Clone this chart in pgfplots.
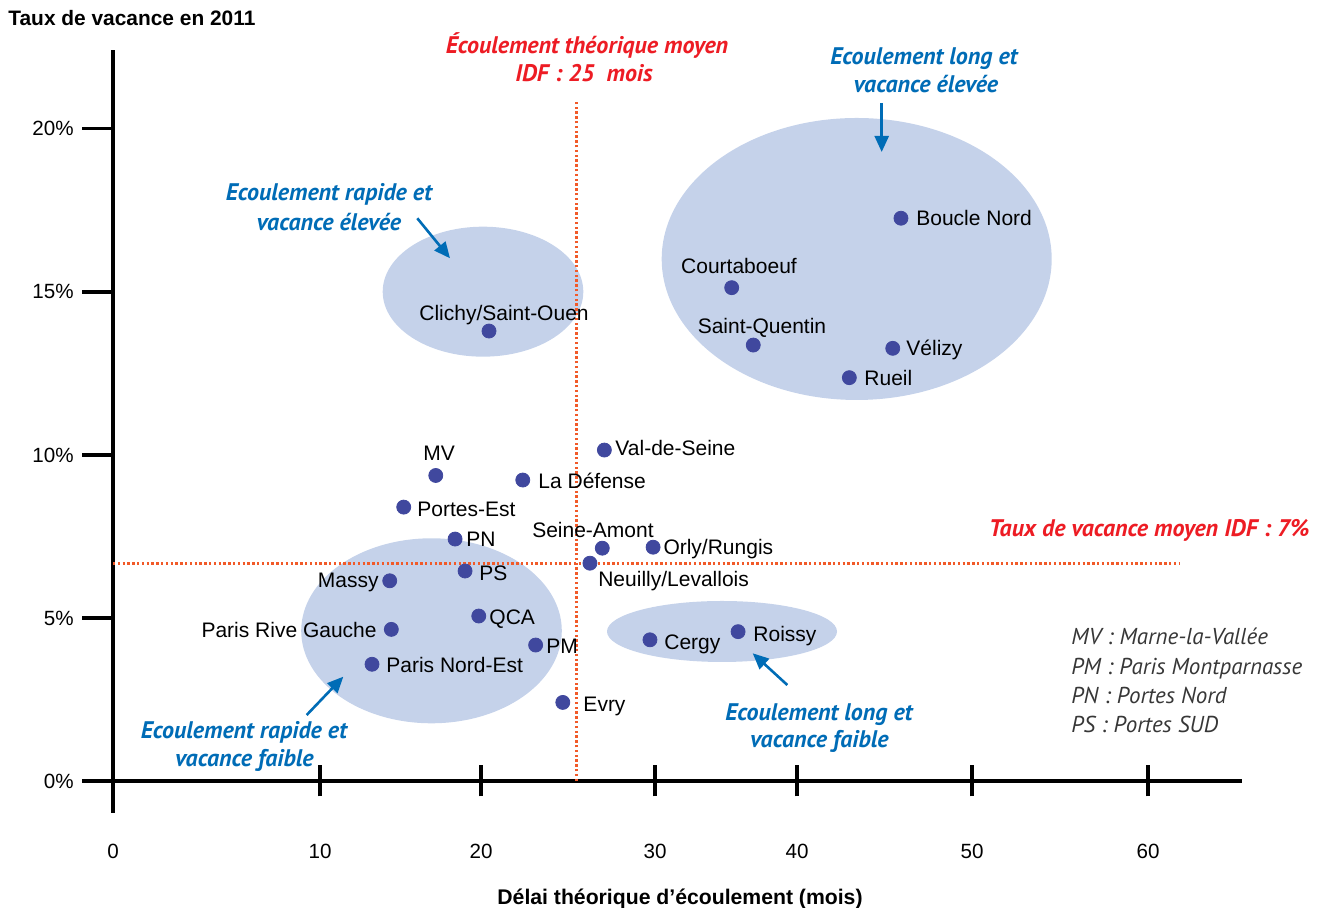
\documentclass[border=0pt]{standalone}
\usepackage{fontspec}
\setmainfont{Liberation Sans}
\newfontfamily\annotfont{PT Sans}
\usepackage{pgfplots}
\pgfplotsset{compat=1.18}
\usepackage{pgfplotstable}
\usetikzlibrary{arrows.meta}
\definecolor{dotblue}{RGB}{64,72,158}
\definecolor{ellfill}{RGB}{197,210,234}
\definecolor{annblue}{RGB}{0,108,182}
\definecolor{annred}{RGB}{237,28,36}
\definecolor{refred}{RGB}{241,90,41}
\definecolor{leggray}{RGB}{55,55,55}
\newcommand\lblfont{\fontsize{10.5}{12}\selectfont}
\tikzset{lb/.style={inner sep=0pt, font=\lblfont, text=black}}

% x = delai theorique d'ecoulement (mois), y = taux de vacance 2011 (%)
\pgfplotstableread[col sep=comma]{
x,y,name
17.19,9.37,MV
22.40,9.23,La Défense
27.09,10.15,Val-de-Seine
15.20,8.40,Portes-Est
18.39,7.42,PN
26.97,7.14,Seine-Amont
29.89,7.17,Orly/Rungis
26.26,6.68,Neuilly/Levallois
19.01,6.44,PS
14.33,6.14,Massy
19.86,5.06,QCA
14.43,4.65,Paris Rive Gauche
23.14,4.17,PM
13.23,3.58,Paris Nord-Est
24.70,2.41,Evry
29.71,4.33,Cergy
35.85,4.58,Roissy
20.46,13.80,Clichy/Saint-Ouen
45.94,17.26,Boucle Nord
35.40,15.13,Courtaboeuf
36.92,13.37,Saint-Quentin
45.47,13.27,Vélizy
42.99,12.37,Rueil
}\sites

\begin{document}
\begin{tikzpicture}
\path[use as bounding box] (0,0) rectangle (664pt,454pt);
\begin{scope}[x=0.5pt,y=-0.5pt,yshift=454pt]
  \fill[ellfill] (856.7,259) ellipse [x radius=97.5pt, y radius=70.5pt];
  \fill[ellfill] (483,291.7) ellipse [x radius=50.15pt, y radius=32.5pt];
  \fill[ellfill] (431.5,630.8) ellipse [x radius=65.15pt, y radius=46.25pt];
  \fill[ellfill] (722,631.5) ellipse [x radius=57.5pt, y radius=15.25pt];
  \draw[line width=2pt] (113,781) -- (113,813);
\end{scope}

\begin{axis}[
  at={(56.5pt,63.5pt)}, anchor=south west,
  scale only axis, width=564.5pt, height=365.5pt,
  x coord trafo/.code={\pgfmathparse{113+20.7*min(#1,10)+16.1*max(min(#1,20)-10,0)+17.4*max(min(#1,30)-20,0)+14.2*max(min(#1,40)-30,0)+17.5*max(min(#1,50)-40,0)+17.6*max(#1-50,0)}},
  xmin=0, xmax=65.34, ymin=0, ymax=22.42,
  axis x line*=bottom, axis y line*=left,
  axis line style={line width=2pt, black},
  every tick/.style={black, line width=1.6pt},
  major tick length=15.5pt,
  xtick align=center, ytick align=outside,
  xtick={0,10,20,30,40,50,60}, xticklabels={0,10,20,30,40,50,60},
  ytick={0,5,10,15,20}, yticklabels={0\%,5\%,10\%,15\%,20\%},
  tick label style={font=\fontsize{10.3}{12}\selectfont},
  xticklabel style={anchor=base, yshift=-31.25pt},
  yticklabel style={anchor=east, inner sep=0pt, xshift=-4pt},
  clip=false,
]
\draw[refred, line width=1.5pt, dash pattern=on 1.2pt off 1.2pt] (axis cs:0,6.68) -- (axis cs:61.82,6.68);
\draw[refred, line width=1.5pt, dash pattern=on 1.2pt off 1.2pt] (axis cs:25.5,0) -- (axis cs:25.5,20.89);
\addplot[only marks, mark=*, mark size=3.5pt, color=dotblue, mark options={draw=dotblue, fill=dotblue}]
  table[x=x, y=y] {\sites};
\node[lb, anchor=base, xshift=1.65pt, yshift=7.6pt] at (axis cs:17.19,9.37) {MV};
\node[lb, anchor=base west, xshift=7.65pt, yshift=-4.25pt] at (axis cs:22.40,9.23) {La Défense};
\node[lb, anchor=base west, xshift=5.35pt, yshift=-2.75pt] at (axis cs:27.09,10.15) {Val-de-Seine};
\node[lb, anchor=base west, xshift=6.65pt, yshift=-4.6pt] at (axis cs:15.20,8.40) {Portes-Est};
\node[lb, anchor=base west, xshift=5.5pt, yshift=-3.75pt] at (axis cs:18.39,7.42) {PN};
\node[lb, anchor=base, xshift=-4.65pt, yshift=5.4pt] at (axis cs:26.97,7.14) {Seine-Amont};
\node[lb, anchor=base west, xshift=5pt, yshift=-3.6pt] at (axis cs:29.89,7.17) {Orly/Rungis};
\node[lb, anchor=base west, xshift=4pt, yshift=-11.6pt] at (axis cs:26.26,6.68) {Neuilly/Levallois};
\node[lb, anchor=base west, xshift=7pt, yshift=-4.75pt] at (axis cs:19.01,6.44) {PS};
\node[lb, anchor=base east, xshift=-5.35pt, yshift=-3.4pt] at (axis cs:14.33,6.14) {Massy};
\node[lb, anchor=base west, xshift=5.15pt, yshift=-4.25pt] at (axis cs:19.86,5.06) {QCA};
\node[lb, anchor=base east, xshift=-7.15pt, yshift=-4.1pt] at (axis cs:14.43,4.65) {Paris Rive Gauche};
\node[lb, anchor=base west, xshift=5.15pt, yshift=-4.25pt] at (axis cs:23.14,4.17) {PM};
\node[lb, anchor=base west, xshift=7pt, yshift=-4.1pt] at (axis cs:13.23,3.58) {Paris Nord-Est};
\node[lb, anchor=base west, xshift=10.15pt, yshift=-4.6pt] at (axis cs:24.70,2.41) {Evry};
\node[lb, anchor=base west, xshift=7pt, yshift=-4.75pt] at (axis cs:29.71,4.33) {Cergy};
\node[lb, anchor=base west, xshift=7.5pt, yshift=-4.9pt] at (axis cs:35.85,4.58) {Roissy};
\node[lb, anchor=base, xshift=7.5pt, yshift=5.25pt] at (axis cs:20.46,13.80) {Clichy/Saint-Ouen};
\node[lb, anchor=base west, xshift=7.5pt, yshift=-3.6pt] at (axis cs:45.94,17.26) {Boucle Nord};
\node[lb, anchor=base, xshift=3.65pt, yshift=7.1pt] at (axis cs:35.40,15.13) {Courtaboeuf};
\node[lb, anchor=base, xshift=4.35pt, yshift=5.75pt] at (axis cs:36.92,13.37) {Saint-Quentin};
\node[lb, anchor=base west, xshift=6.65pt, yshift=-3.6pt] at (axis cs:45.47,13.27) {Vélizy};
\node[lb, anchor=base west, xshift=7.35pt, yshift=-3.9pt] at (axis cs:42.99,12.37) {Rueil};
\end{axis}

\begin{scope}[x=0.5pt,y=-0.5pt,yshift=454pt]
  \tikzset{ann/.style={font=\annotfont\bfseries\itshape\fontsize{12}{14}\selectfont, text=annblue, inner sep=0pt, anchor=base},
           arr/.style={annblue, line width=1.3pt, -{Triangle[length=8pt, width=7pt]}}}
  \node[anchor=base west, inner sep=0pt, font=\bfseries\fontsize{10.45}{12}\selectfont] at (8,25.5) {Taux de vacance en 2011};
  \node[anchor=base, inner sep=0pt, font=\bfseries\fontsize{10.6}{12}\selectfont] at (680,904.5) {Délai théorique d’écoulement (mois)};
  \node[ann, text=annred] at (587,54) {Écoulement théorique moyen};
  \node[ann, text=annred] at (584,82) {IDF : 25\ \ mois};
  \node[ann, text=annred, anchor=base east] at (1310,536.5) {Taux de vacance moyen IDF : 7\%};
  \node[ann] at (924,65) {Ecoulement long et};
  \node[ann] at (926,93) {vacance élevée};
  \node[ann] at (329,201) {Ecoulement rapide et};
  \node[ann] at (329,231) {vacance élevée};
  \node[ann] at (244,739) {Ecoulement rapide et};
  \node[ann] at (244.5,767) {vacance faible};
  \node[ann] at (819,720.5) {Ecoulement long et};
  \node[ann] at (819.5,748) {vacance faible};
  \draw[arr] (881.7,103) -- (881.7,152);
  \draw[arr] (417.3,218.3) -- (450,258.3);
  \draw[arr] (306.7,715) -- (343.3,676.7);
  \draw[arr] (787.3,685) -- (752.7,653.3);
  \tikzset{leg/.style={font=\annotfont\itshape\fontsize{11.5}{13}\selectfont, text=leggray, inner sep=0pt, anchor=base west}}
  \node[leg] at (1071,645) {MV : Marne-la-Vallée};
  \node[leg] at (1071,675) {PM : Paris Montparnasse};
  \node[leg] at (1071,704) {PN : Portes Nord};
  \node[leg] at (1071,733) {PS : Portes SUD};
\end{scope}
\end{tikzpicture}
\end{document}
